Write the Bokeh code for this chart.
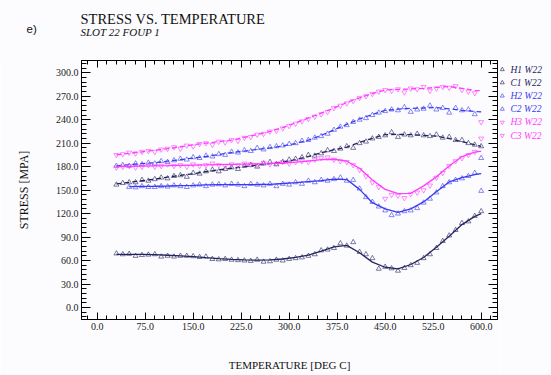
from bokeh.plotting import figure
from bokeh.models import Range1d, LinearAxis, FixedTicker, PrintfTickFormatter
from bokeh.core.properties import value
from bokeh.layouts import column, row
from bokeh.embed import file_html
from bokeh.resources import INLINE

nan = float("nan")

# ---------------- data ----------------
TEMPS = [30, 40, 50, 60, 70, 80, 90, 100, 110, 120, 130, 140, 150, 160, 170, 180,
         190, 200, 210, 220, 230, 240, 250, 260, 270, 280, 290, 300, 310, 320, 330,
         340, 350, 360, 370, 380, 390, 400, 410, 420, 430, 440, 450, 460, 470, 480,
         490, 500, 510, 520, 530, 540, 550, 560, 570, 580, 590, 600]

H1_PTS = [69, 68, 68.5, 66, 67, 67.5, 68, 65, 66, 65,
          66, 66, 65.5, 64.5, 65, 62, 61.5, 62, 61, 60.5,
          60, 59.5, 61, 58.5, 59, 61, 60, 62, 63, 64,
          66, 68, 73, 74, 76, 82, 79, 83.5, 71, 68,
          63, 49.5, 52, 50, 47, 50.5, 54, 57, 63, 68,
          76, 85, 92, 99, 108, 110, 117, 123]
C1_PTS = [157, 159, 160, 160, 163, 162, 164, 166, 165, 168,
          169, 167, 172, 171, 174, 176, 174, 177, 179, 177,
          181, 182, 180, 184, 186, 183, 186, 189, 190, 192,
          195, 194, 197, 201, 200, 203, 206, 204, 210, 212,
          216, 218, 220, 224, 218, 221, 220, 222, 220, 219,
          221, 217, 218, 214, 214, 210, 208, 206]
H2_PTS = [nan, nan, 154, 153.5, 155, 154, 154, 155, 154.5, 156,
          155, 154, 156, 157, 155, 157, 157.5, 156, 158, 157,
          155, 158, 157, 156, 158, 155, 158, 157, 160, 158,
          162, 160, 163, 162, 164, 166, 162, 163, 152, 141,
          135, 129, 124, 118, 120, 123, 124, 127, 134, 139,
          147, 155, 160, 163, 165, 168, 172, 149]
C2_PTS = [181, 182, 181, 184, 183, 185, 184, 187, 186, 188,
          190, 189, 192, 191, 194, 193, 196, 195, 199, 198,
          201, 200, 204, 202, 205, 206, 207, 209, 210, 213,
          214, 217, 219, 222, 227, 231, 233, 237, 240, 242,
          246, 249, 251, 253, 252, 256, 250, 253, 254, 258,
          253, 255, 249, 255, 252, 253, 247, 191]
H3_PTS = [179, 180, 181, 179, 180, 182, 180, 181, 183, 181,
          182, 180, 183, 181, 182, 184, 182, 181, 183, 182,
          184, 183, 182, 185, 183, 184, 186, 184, 186, 187,
          186, 189, 191, 192, 189, 187, 186, 182, 176, 168,
          160, 154, 139, 144, 143, 140, 145, 147, 150, 156,
          166, 172, 181, 187, 191, 195, 199, 216]
C3_PTS = [195, 196, 198, 197, 199, 200, 199, 202, 203, 205,
          203, 207, 206, 209, 210, 208, 212, 211, 214, 213,
          217, 218, 221, 222, 225, 226, 229, 232, 235, 238,
          241, 244, 247, 250, 255, 258, 261, 264, 268, 270,
          273, 276, 278, 277, 279, 275, 280, 279, 282, 277,
          280, 282, 281, 283, 278, 276, 274, 237]

FIT_T = [30, 50, 70, 90, 110, 130, 150, 170, 190, 210, 230, 250, 270, 290, 310,
         330, 350, 370, 390, 410, 430, 450, 470, 490, 510, 530, 550, 570, 590, 600]
H1_FIT = [68, 68, 68, 67.5, 66.8, 66, 65, 63.7, 62.5, 61.5, 60.8, 60.6, 61, 62, 64,
          67, 72, 77.5, 79.5, 70, 58, 51.5, 49.5, 55, 64, 77, 91, 106, 116.5, 120]
C1_FIT = [158, 160, 162, 164, 166.7, 169, 171, 173.7, 176, 178, 180, 182, 184, 186, 189,
          193, 197.7, 201.7, 205, 211, 216.3, 221, 221.3, 221, 220, 219, 216, 212, 208, 206]
H2_FIT = [nan, 154.5, 154.8, 155, 155.3, 155.7, 156, 156.7, 157, 157, 157, 157.2, 157.5,
          158.5, 159.7, 161, 162.3, 164, 163.5, 151, 134, 126, 121.5, 126, 135, 148,
          160.5, 166, 170, 171]
C2_FIT = [181, 182.5, 184, 185, 187, 189, 191, 193, 195.5, 198, 200, 202, 204, 206.5,
          209.5, 214, 220, 227, 234, 241, 246.7, 252, 253.5, 254.5, 255, 255.5, 254,
          252, 250.5, 250]
H3_FIT = [180, 180.3, 180.7, 181, 181.3, 181.7, 182, 182.3, 182.7, 183, 183.3, 183.7,
          184, 184.7, 185.7, 187, 189, 189.5, 187, 178, 163, 151, 145.5, 146, 155.5,
          167, 181, 193, 198.5, 200]
C3_FIT = [195, 197, 199, 201, 203, 205.5, 208, 210, 212, 214, 217.5, 221, 225, 230, 236,
          242, 248.5, 255, 262, 268, 273.5, 278, 278.7, 279.3, 280, 281.3, 282.5, 280,
          277.5, 277]

SERIES_NAMES = ["H1 W22", "C1 W22", "H2 W22", "C2 W22", "H3 W22", "C3 W22"]
X_TICKS = [0, 75, 150, 225, 300, 375, 450, 525, 600]
Y_TICKS = [0, 30, 60, 90, 120, 150, 180, 210, 240, 270, 300]

TITLE = "STRESS VS. TEMPERATURE"
SUBTITLE = "SLOT 22 FOUP 1"
PANEL_TAG = "e)"

# ---------------- styles ----------------
BG = "#fcfcfe"
DARK = "#24245e"
BLUE = "#3a3af0"
MAGENTA = "#ff3cff"
SERIF = "Liberation Serif"
COLORS = [DARK, DARK, BLUE, BLUE, MAGENTA, MAGENTA]
MARKERS = ["triangle", "triangle", "triangle", "triangle",
           "inverted_triangle", "inverted_triangle"]
DASHES = ["solid", "5 3", "solid", "5 3", "solid", "5 3"]

TOP_H = 59
MAIN_W = 499
MAIN_H = 375 - TOP_H
LEG_W = 551 - MAIN_W
B_TOP = 1
B_BOTTOM = 56
FRAME_H = MAIN_H - B_TOP - B_BOTTOM


def blank_fig(w, h, b_top=0, b_bottom=0):
    f = figure(width=w, height=h, x_range=Range1d(0, w),
               y_range=Range1d(0, h - b_top - b_bottom),
               output_backend="svg", toolbar_location=None,
               x_axis_type=None, y_axis_type=None,
               min_border_left=0, min_border_right=0, min_border_top=b_top,
               min_border_bottom=b_bottom, background_fill_color=BG,
               border_fill_color=BG, outline_line_color=None)
    f.xgrid.visible = False
    f.ygrid.visible = False
    return f


# ---------------- top strip with titles ----------------
top = blank_fig(551, TOP_H)
top.text(x=[80], y=[TOP_H - 18.3], text=[TITLE], text_font=value(SERIF),
         text_font_size="14.5px", text_color="#111111",
         text_baseline="alphabetic", text_align="left")
top.text(x=[80], y=[TOP_H - 31.7], text=[SUBTITLE], text_font=value(SERIF),
         text_font_size="11px", text_font_style="italic", text_color="#111111",
         text_baseline="alphabetic", text_align="left")
top.text(x=[26], y=[TOP_H - 28.5], text=[PANEL_TAG], text_font=value("Liberation Sans"),
         text_font_size="11.5px", text_color="#111111",
         text_baseline="alphabetic", text_align="left")

# ---------------- main chart ----------------
p = figure(width=MAIN_W, height=MAIN_H,
           x_range=Range1d(-24.5, 625.5), y_range=Range1d(-15.3, 315.7),
           output_backend="svg", toolbar_location=None,
           min_border_left=81, min_border_right=2, min_border_top=B_TOP,
           min_border_bottom=B_BOTTOM,
           background_fill_color=BG, border_fill_color=BG,
           outline_line_color="black", outline_line_width=1)
p.title.text = ""
p.xgrid.visible = False
p.ygrid.visible = False

x_minor = [v for v in range(-15, 626, 15)]
y_minor = [v for v in range(-12, 316, 6)]


def style_axis(ax, major_in, minor_in, show_labels=True):
    ax.major_tick_in = major_in
    ax.major_tick_out = 0
    ax.minor_tick_in = minor_in
    ax.minor_tick_out = 0
    ax.axis_line_color = "black"
    ax.major_tick_line_color = "black"
    ax.minor_tick_line_color = "black"
    ax.major_label_text_font = SERIF
    if show_labels:
        ax.major_label_text_font_size = "10px"
        ax.major_label_text_color = "#222222"
    else:
        ax.major_label_text_font_size = "0px"
        ax.major_label_standoff = 0
        ax.major_label_text_color = None


fmt = PrintfTickFormatter(format="%.1f")

xb = p.xaxis[0]
xb.ticker = FixedTicker(ticks=X_TICKS, minor_ticks=x_minor)
xb.formatter = fmt
style_axis(xb, 7, 4)
xb.major_label_standoff = 3
xb.axis_label = "TEMPERATURE [DEG C]"
xb.axis_label_text_font = SERIF
xb.axis_label_text_font_size = "11px"
xb.axis_label_text_font_style = "normal"
xb.axis_label_text_color = "#111111"
xb.axis_label_standoff = 26

yl = p.yaxis[0]
yl.ticker = FixedTicker(ticks=Y_TICKS, minor_ticks=y_minor)
yl.formatter = fmt
style_axis(yl, 9, 5)
yl.major_label_standoff = 3
yl.axis_label = "STRESS [MPA]"
yl.axis_label_text_font = SERIF
yl.axis_label_text_font_size = "12px"
yl.axis_label_text_font_style = "normal"
yl.axis_label_text_color = "#111111"
yl.axis_label_standoff = 22

xtop = LinearAxis(ticker=FixedTicker(ticks=X_TICKS, minor_ticks=x_minor))
style_axis(xtop, 7, 4, show_labels=False)
p.add_layout(xtop, "above")
yright = LinearAxis(ticker=FixedTicker(ticks=Y_TICKS, minor_ticks=y_minor))
style_axis(yright, 9, 5, show_labels=False)
p.add_layout(yright, "right")

ALL_PTS = [H1_PTS, C1_PTS, H2_PTS, C2_PTS, H3_PTS, C3_PTS]
ALL_FIT = [H1_FIT, C1_FIT, H2_FIT, C2_FIT, H3_FIT, C3_FIT]
for pts, fit, col, mk, dash in zip(ALL_PTS, ALL_FIT, COLORS, MARKERS, DASHES):
    p.line(FIT_T, fit, line_color=col, line_width=1.3, line_dash=dash)
    p.scatter(TEMPS, pts, marker=mk, size=5, fill_color=None,
              line_color=col, line_width=0.8, line_alpha=0.75)

# ---------------- legend strip (right of the frame) ----------------
# same top/bottom borders as the chart, so y is measured from the frame top
leg = blank_fig(LEG_W, MAIN_H, B_TOP, B_BOTTOM)
row_y = [FRAME_H - (9 + 13.2 * i) for i in range(len(SERIES_NAMES))]
for i, name in enumerate(SERIES_NAMES):
    leg.scatter([2.8], [row_y[i]], marker=MARKERS[i], size=4, fill_color=None,
                line_color=COLORS[i], line_width=0.8, line_alpha=0.8)
    leg.text(x=[11], y=[row_y[i]], text=[name], text_font=value(SERIF),
             text_font_size="9.5px", text_font_style="italic", text_color=COLORS[i],
             text_baseline="middle", text_align="left")

layout = column(top, row(p, leg))
open("out.html", "w").write(file_html(layout, INLINE))
